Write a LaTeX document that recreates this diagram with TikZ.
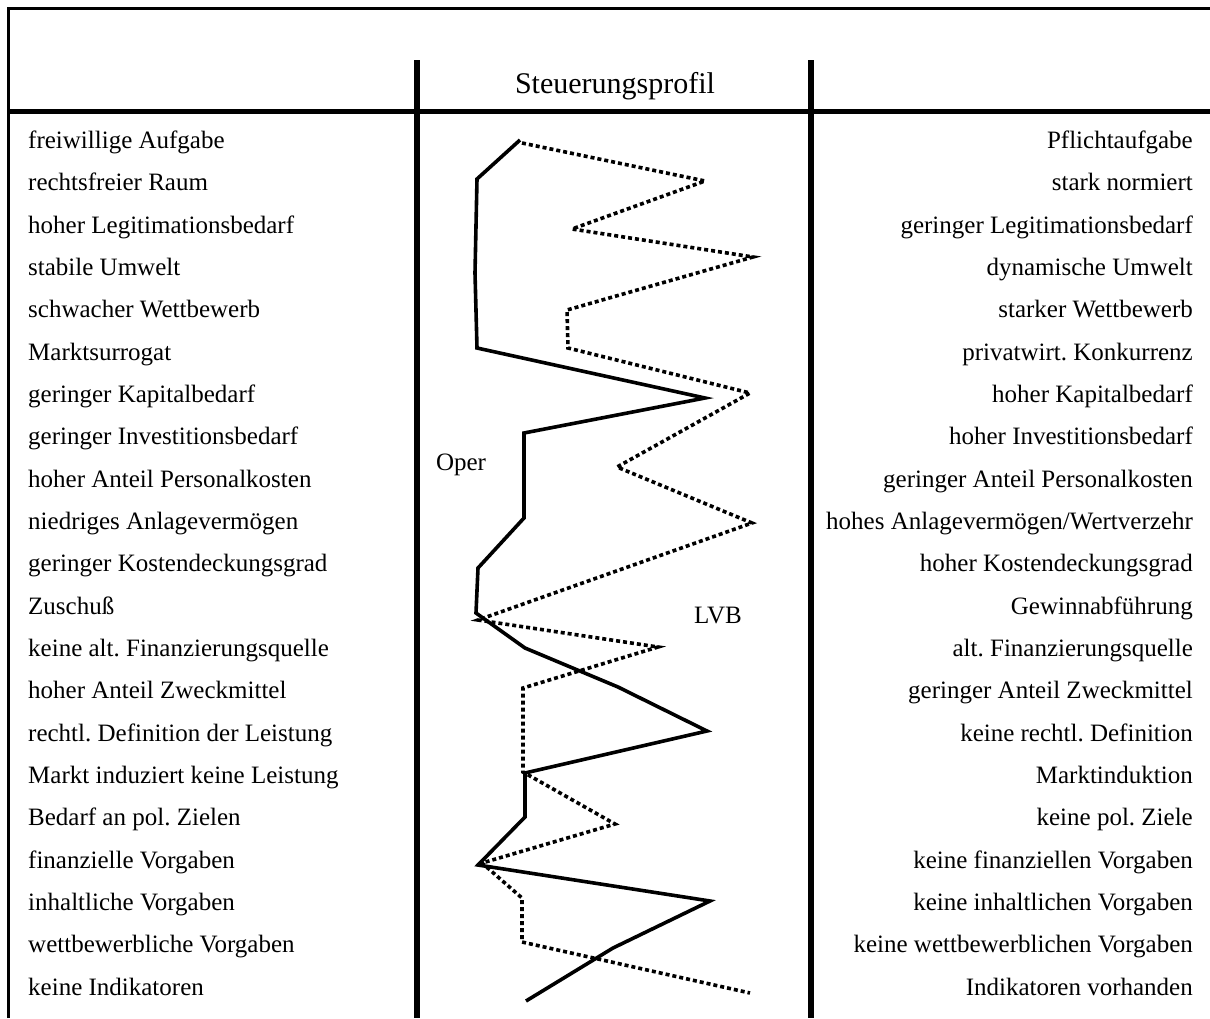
\documentclass[tikz,border=0pt]{standalone}
\usepackage{fontspec}
\setmainfont{Liberation Serif}
\frenchspacing
\begin{document}
\begin{tikzpicture}[x=1pt,y=-1pt,
  lefttext/.style={anchor=base west,inner sep=0pt,font=\fontsize{25}{25}\selectfont},
  righttext/.style={anchor=base east,inner sep=0pt,font=\fontsize{25}{25}\selectfont},
  frameline/.style={line width=2.7pt},
  rule/.style={line width=5.5pt},
  operline/.style={line width=3.6pt,line join=miter,miter limit=10},
  lvbline/.style={line width=3.6pt,dash pattern=on 4pt off 3pt,line join=miter}]
\useasboundingbox (0,0) rectangle (1210,1018);
% frame
\draw[frameline] (8.7,1018) -- (8.7,8.7) -- (1210,8.7);
\draw[rule] (8.7,111.7) -- (1210,111.7);
\draw[rule] (417,60) -- (417,1018);
\draw[rule] (811,60) -- (811,1018);
\node[anchor=base,inner sep=0pt,font=\fontsize{30}{30}\selectfont] (title) at (615,93) {Steuerungsprofil};
% rows
\foreach \l/\r [count=\i from 0] in {
 freiwillige Aufgabe/Pflichtaufgabe,
 rechtsfreier Raum/stark normiert,
 hoher Legitimationsbedarf/geringer Legitimationsbedarf,
 stabile Umwelt/dynamische Umwelt,
 schwacher Wettbewerb/starker Wettbewerb,
 Marktsurrogat/privatwirt. Konkurrenz,
 geringer Kapitalbedarf/hoher Kapitalbedarf,
 geringer Investitionsbedarf/hoher Investitionsbedarf,
 hoher Anteil Personalkosten/geringer Anteil Personalkosten,
 niedriges Anlagevermögen/hohes Anlagevermögen{/}Wertverzehr,
 geringer Kostendeckungsgrad/hoher Kostendeckungsgrad,
 Zuschuß/Gewinnabführung,
 keine alt. Finanzierungsquelle/alt. Finanzierungsquelle,
 hoher Anteil Zweckmittel/geringer Anteil Zweckmittel,
 rechtl. Definition der Leistung/keine rechtl. Definition,
 Markt induziert keine Leistung/Marktinduktion,
 Bedarf an pol. Zielen/keine pol. Ziele,
 finanzielle Vorgaben/keine finanziellen Vorgaben,
 inhaltliche Vorgaben/keine inhaltlichen Vorgaben,
 wettbewerbliche Vorgaben/keine wettbewerblichen Vorgaben,
 keine Indikatoren/Indikatoren vorhanden}{
  \node[lefttext] (L\i) at (28,148.3+42.35*\i) {\l};
  \node[righttext] (R\i) at (1193,148.3+42.35*\i) {\r};
}
% profiles
\draw[lvbline] (522,143) -- (705,181) -- (572,229) -- (753,257) -- (567,310) -- (568,348)
  -- (750,393) -- (617,467) -- (752,523) -- (478,620) -- (658,647) -- (523,688)
  -- (523,772) -- (615,824) -- (482,863) -- (522,898) -- (522,942) -- (750,993);
\draw[operline] (520,140) -- (477,179) -- (475,273) -- (477,348) -- (705,398) -- (524,433)
  -- (524,518) -- (478,568) -- (476,613) -- (525,648) -- (618,687) -- (707,731)
  -- (525,773) -- (525,817) -- (478,865) -- (710,901) -- (613,948) -- (526,1001);
\node[anchor=base,inner sep=0pt,font=\fontsize{25}{25}\selectfont] (oper) at (461,470) {Oper};
\node[anchor=base,inner sep=0pt,font=\fontsize{25}{25}\selectfont] (lvb) at (718,623) {LVB};
\end{tikzpicture}
\end{document}
